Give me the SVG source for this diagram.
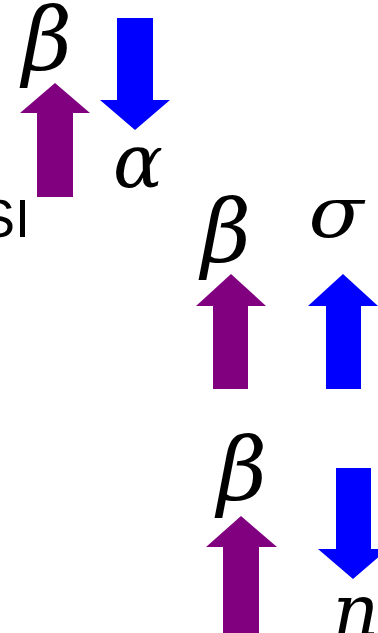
<svg xmlns="http://www.w3.org/2000/svg" width="378" height="633" viewBox="0 0 378 633">
<style>
.up{fill:#800080}
.dn{fill:#0000ff}
.g{font-family:"DejaVu Serif",serif;font-style:italic;font-size:72px;fill:#000;text-anchor:middle}
.b{font-family:"DejaVu Serif",serif;font-style:italic;font-size:86px;fill:#000;text-anchor:middle}
.s{font-family:"Liberation Sans",Arial,sans-serif;font-size:54px;fill:#000}
</style>
<rect width="378" height="633" fill="#fff"/>
<g id="spin1">
<text class="s" x="-21" y="237">SI</text>
<polygon class="up" points="55,83 90,113 73,113 73,197 37,197 37,113 20,113"/>
<text class="b" transform="translate(47,70) scale(1,1.03)">β</text>
<polygon class="dn" points="117,18 153,18 153,100 170,100 135,130 100,100 117,100"/>
<text class="g" x="138" y="187" style="font-size:74px">α</text>
</g>
<g id="spin2">
<polygon class="up" points="231,274 266,306 248,306 248,389 213,389 213,306 196,306"/>
<text class="b" transform="translate(226,262) scale(1,1.03)">β</text>
<polygon class="dn" points="343,274 378,306 361,306 361,389 326,389 326,306 308,306"/>
<text class="g" transform="translate(336,237) scale(1.12,1)">σ</text>
</g>
<g id="spin3">
<polygon class="up" points="241,516 277,547 259,547 259,640 223,640 223,547 206,547"/>
<text class="b" transform="translate(242,500) scale(1,1.03)">β</text>
<polygon class="dn" points="336,468 371,468 371,549 388,549 353,579 318,549 336,549"/>
<text class="g" x="356" y="636">n</text>
</g>
</svg>
